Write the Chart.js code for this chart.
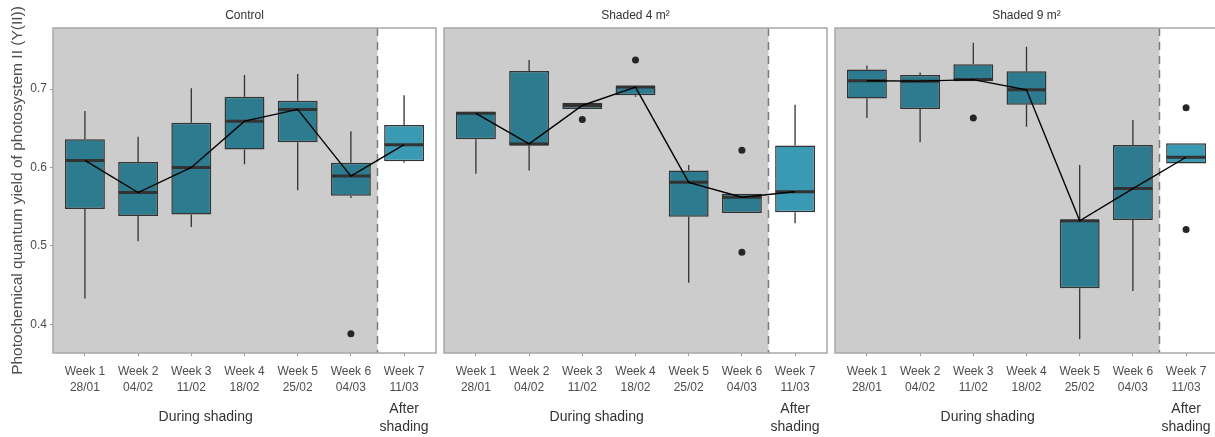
<!DOCTYPE html>
<html>
<head>
<meta charset="utf-8">
<script src="https://cdn.jsdelivr.net/npm/chart.js@4.4.1/dist/chart.umd.min.js"></script>
<style>
  html, body { margin: 0; padding: 0; background: #fff; overflow: hidden; }
  #wrap { position: relative; width: 1215px; height: 437px; overflow: hidden; }
  canvas { position: absolute; top: 0; }
</style>
</head>
<body>
<div id="wrap">
  <canvas id="panel1" width="440" height="437" style="left:0px"></canvas>
  <canvas id="panel2" width="391" height="437" style="left:440px"></canvas>
  <canvas id="panel3" width="391" height="437" style="left:831px"></canvas>
</div>
<script>
// categories and axis labels
const weekLabels = ['Week 1', 'Week 2', 'Week 3', 'Week 4', 'Week 5', 'Week 6', 'Week 7'];
const dateLabels = ['28/01', '04/02', '11/02', '18/02', '25/02', '04/03', '11/03'];
const yTicks = [0.4, 0.5, 0.6, 0.7];
const yTitle = 'Photochemical quantum yield of photosystem II (Y(II))';

// shading period ends between week 6 and week 7
const shadeEnd = 5.5;
const groupLabels = [['During shading'], ['After', 'shading']];
const groupPositions = [2.27, 6];

// Control
const controlLow = [0.433, 0.506, 0.524, 0.604, 0.571, 0.561, 0.606];
const controlQ1  = [0.547, 0.538, 0.540, 0.623, 0.632, 0.564, 0.608];
const controlMed = [0.609, 0.568, 0.600, 0.659, 0.674, 0.589, 0.629];
const controlQ3  = [0.636, 0.607, 0.657, 0.690, 0.685, 0.606, 0.654];
const controlHigh = [0.672, 0.639, 0.701, 0.718, 0.719, 0.646, 0.692];
const controlOut = [{ x: 5, y: 0.388 }];

// Shaded 4 m²
const shade4Low = [0.592, 0.596, 0.6745, 0.690, 0.453, 0.542, 0.529];
const shade4Q1  = [0.636, 0.628, 0.6745, 0.692, 0.537, 0.542, 0.543];
const shade4Med = [0.669, 0.630, 0.679, 0.7025, 0.581, 0.562, 0.569];
const shade4Q3  = [0.671, 0.723, 0.6825, 0.704, 0.596, 0.5665, 0.628];
const shade4High = [0.671, 0.737, 0.6825, 0.704, 0.603, 0.5665, 0.680];
const shade4Out = [{ x: 2, y: 0.661 }, { x: 3, y: 0.737 }, { x: 5, y: 0.622 }, { x: 5, y: 0.492 }];

// Shaded 9 m²
const shade9Low = [0.663, 0.632, 0.710, 0.652, 0.381, 0.4425, 0.605];
const shade9Q1  = [0.688, 0.6745, 0.710, 0.680, 0.446, 0.533, 0.605];
const shade9Med = [0.7106, 0.710, 0.712, 0.699, 0.532, 0.573, 0.613];
const shade9Q3  = [0.725, 0.718, 0.7315, 0.7226, 0.533, 0.6286, 0.631];
const shade9High = [0.730, 0.721, 0.759, 0.754, 0.603, 0.6605, 0.631];
const shade9Out = [{ x: 2, y: 0.663 }, { x: 6, y: 0.676 }, { x: 6, y: 0.521 }];

const yMin = 0.3634, yMax = 0.7778;

Chart.defaults.font.family = '"Liberation Sans", Arial, sans-serif';
Chart.defaults.animation = false;

// background shading, dashed split line, whiskers, medians, border and group labels
const panelDecor = {
  id: 'panelDecor',
  beforeDatasetsDraw(chart) {
    const { ctx, chartArea: a, scales: { x } } = chart;
    const splitX = x.getPixelForValue(shadeEnd);
    ctx.save();
    ctx.fillStyle = '#ffffff';
    ctx.fillRect(a.left, a.top, a.right - a.left, a.bottom - a.top);
    ctx.fillStyle = '#cccccc';
    ctx.fillRect(a.left, a.top, splitX - a.left, a.bottom - a.top);
    ctx.strokeStyle = '#7a7a7a';
    ctx.lineWidth = 1.5;
    ctx.setLineDash([8, 6]);
    ctx.beginPath();
    ctx.moveTo(splitX, a.top);
    ctx.lineTo(splitX, a.bottom);
    ctx.stroke();
    ctx.restore();
  },
  afterDatasetDraw(chart, args, opts) {
    if (args.meta.type !== 'bar') return;
    const { ctx, scales: { y } } = chart;
    ctx.save();
    args.meta.data.forEach((bar, i) => {
      const half = bar.width / 2;
      ctx.strokeStyle = '#333333';
      ctx.lineWidth = 1.3;
      ctx.beginPath();
      ctx.moveTo(bar.x, y.getPixelForValue(opts.q3[i]));
      ctx.lineTo(bar.x, y.getPixelForValue(opts.high[i]));
      ctx.moveTo(bar.x, y.getPixelForValue(opts.q1[i]));
      ctx.lineTo(bar.x, y.getPixelForValue(opts.low[i]));
      ctx.stroke();
      ctx.lineWidth = 3;
      ctx.beginPath();
      const my = y.getPixelForValue(opts.med[i]);
      ctx.moveTo(bar.x - half + 0.5, my);
      ctx.lineTo(bar.x + half - 0.5, my);
      ctx.stroke();
    });
    ctx.restore();
  },
  afterDraw(chart) {
    const { ctx, chartArea: a, scales: { x } } = chart;
    ctx.save();
    ctx.strokeStyle = '#a8a8a8';
    ctx.lineWidth = 1.5;
    ctx.strokeRect(a.left, a.top, a.right - a.left, a.bottom - a.top);
    ctx.fillStyle = '#333333';
    ctx.font = '14px "Liberation Sans", Arial, sans-serif';
    ctx.textAlign = 'center';
    ctx.textBaseline = 'middle';
    groupLabels.forEach((lines, g) => {
      const gx = x.getPixelForValue(groupPositions[g]);
      const y0 = lines.length === 1 ? a.bottom + 63.7 : a.bottom + 56.3;
      lines.forEach((t, k) => ctx.fillText(t, gx, y0 + k * 17.4));
    });
    ctx.restore();
  }
};

function makePanel(id, title, low, q1, med, q3, high, outliers, showY, padLeft, padRight) {
  const boxColors = weekLabels.map((_, i) => i > shadeEnd ? '#3b9ab3' : '#2d7b8e');
  const yScale = {
    min: yMin,
    max: yMax,
    display: showY,
    afterBuildTicks: s => { s.ticks = yTicks.map(v => ({ value: v })); },
    ticks: { callback: v => v.toFixed(1), padding: 3, color: '#4d4d4d', font: { size: 12 } },
    grid: { drawOnChartArea: false, tickLength: 3, color: '#999999' },
    border: { display: false },
    title: { display: true, text: yTitle, color: '#4d4d4d', font: { size: 15.5 }, padding: { top: 8 } }
  };
  // only the first panel carries the y axis, fixed to the same width
  if (showY) yScale.afterFit = s => { s.width = 53; };

  new Chart(document.getElementById(id), {
    type: 'bar',
    data: {
      datasets: [
        {
          type: 'line',
          data: med.map((v, i) => ({ x: i, y: v })),
          borderColor: '#000000',
          borderWidth: 1.4,
          pointRadius: 0,
          tension: 0,
          order: 0
        },
        {
          type: 'scatter',
          data: outliers,
          backgroundColor: '#262626',
          borderWidth: 0,
          pointRadius: 3.5,
          order: 1
        },
        {
          type: 'bar',
          data: q1.map((v, i) => ({ x: i, y: [v, q3[i]] })),
          backgroundColor: boxColors,
          borderColor: '#333333',
          borderWidth: 1.5,
          borderSkipped: false,
          categoryPercentage: 1,
          barPercentage: 0.75,
          order: 2
        }
      ]
    },
    options: {
      responsive: false,
      layout: { padding: { left: padLeft, right: padRight, top: 0, bottom: 0 } },
      plugins: {
        legend: { display: false },
        tooltip: { enabled: false },
        title: {
          display: true,
          text: title,
          fullSize: false,
          color: '#333333',
          font: { size: 12, weight: 'normal' },
          padding: { top: 8, bottom: 5.6 }
        },
        panelDecor: { low, q1, med, q3, high }
      },
      scales: {
        x: {
          type: 'linear',
          min: -0.6,
          max: 6.6,
          offset: false,
          afterBuildTicks: s => { s.ticks = weekLabels.map((_, i) => ({ value: i })); },
          afterFit: s => { s.height = 84; },
          ticks: {
            autoSkip: false,
            maxRotation: 0,
            padding: 8,
            color: '#4d4d4d',
            font: { size: 12, lineHeight: 1.3 },
            callback: (v, i) => [weekLabels[i], dateLabels[i]]
          },
          grid: { drawOnChartArea: false, tickLength: 3, color: '#999999', offset: false },
          border: { display: false }
        },
        y: yScale
      }
    },
    plugins: [panelDecor]
  });
}

makePanel('panel1', 'Control', controlLow, controlQ1, controlMed, controlQ3, controlHigh, controlOut, true, 0, 4);
makePanel('panel2', 'Shaded 4 m²', shade4Low, shade4Q1, shade4Med, shade4Q3, shade4High, shade4Out, false, 4, 4);
makePanel('panel3', 'Shaded 9 m²', shade9Low, shade9Q1, shade9Med, shade9Q3, shade9High, shade9Out, false, 4, 4);
</script>
</body>
</html>
